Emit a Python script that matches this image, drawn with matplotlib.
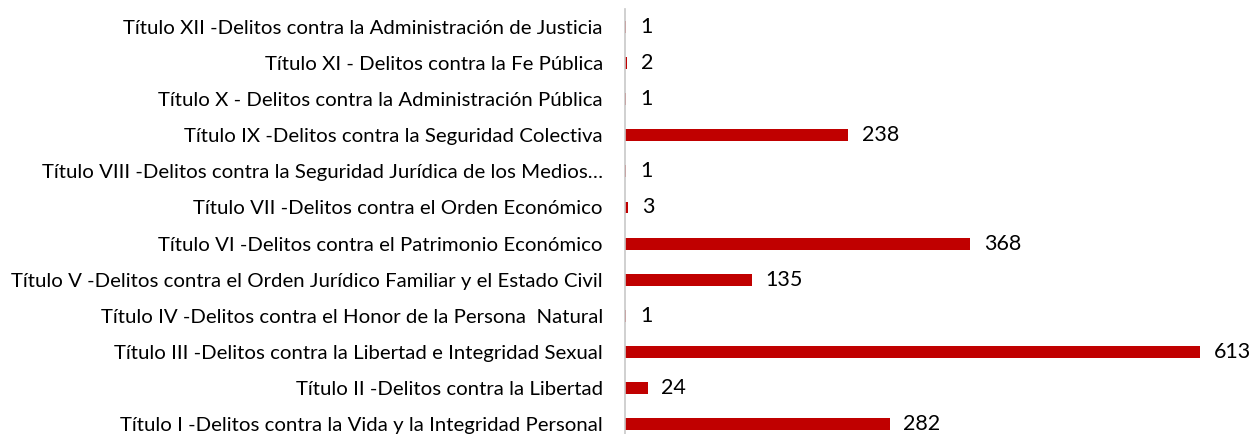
import matplotlib
matplotlib.use("Agg")
import matplotlib.pyplot as plt

categories = [
    "Título I -Delitos contra la Vida y la Integridad Personal",
    "Título II -Delitos contra la Libertad",
    "Título III -Delitos contra la Libertad e Integridad Sexual",
    "Título IV -Delitos contra el Honor de la Persona  Natural",
    "Título V -Delitos contra el Orden Jurídico Familiar y el Estado Civil",
    "Título VI -Delitos contra el Patrimonio Económico",
    "Título VII -Delitos contra el Orden Económico",
    "Título VIII -Delitos contra la Seguridad Jurídica de los Medios…",
    "Título IX -Delitos contra la Seguridad Colectiva",
    "Título X - Delitos contra la Administración Pública",
    "Título XI - Delitos contra la Fe Pública",
    "Título XII -Delitos contra la Administración de Justicia",
]
values = [282, 24, 613, 1, 135, 368, 3, 1, 238, 1, 2, 1]

plt.rcParams['font.family'] = ['Lato', 'DejaVu Sans']

W, H = 1251, 434
fig = plt.figure(figsize=(W/100, H/100), dpi=100)
left = 625 / W
right = 1240 / W
ax = fig.add_axes([left, 0.0, right - left, (434 - 9) / H])

y = list(range(len(categories)))
ax.barh(y, values, height=0.33, color="#C00000")
ax.set_ylim(-0.277, 11.5)
ax.set_xlim(0, 613 * 615 / 575)

for yi, v in zip(y, values):
    ax.annotate(str(v), (v, yi), xytext=(10, 0), textcoords="offset points",
                va="center", ha="left", fontsize=15.5, color="black")

ax.set_yticks(y)
ax.set_yticklabels(categories, fontsize=14.7)
ax.tick_params(axis="y", length=0, pad=16)
ax.set_xticks([])
for s in ["top", "right", "bottom"]:
    ax.spines[s].set_visible(False)
ax.spines["left"].set_color("#C8C8C8")
ax.spines["left"].set_linewidth(1.2)

fig.savefig("out.png", dpi=100)
